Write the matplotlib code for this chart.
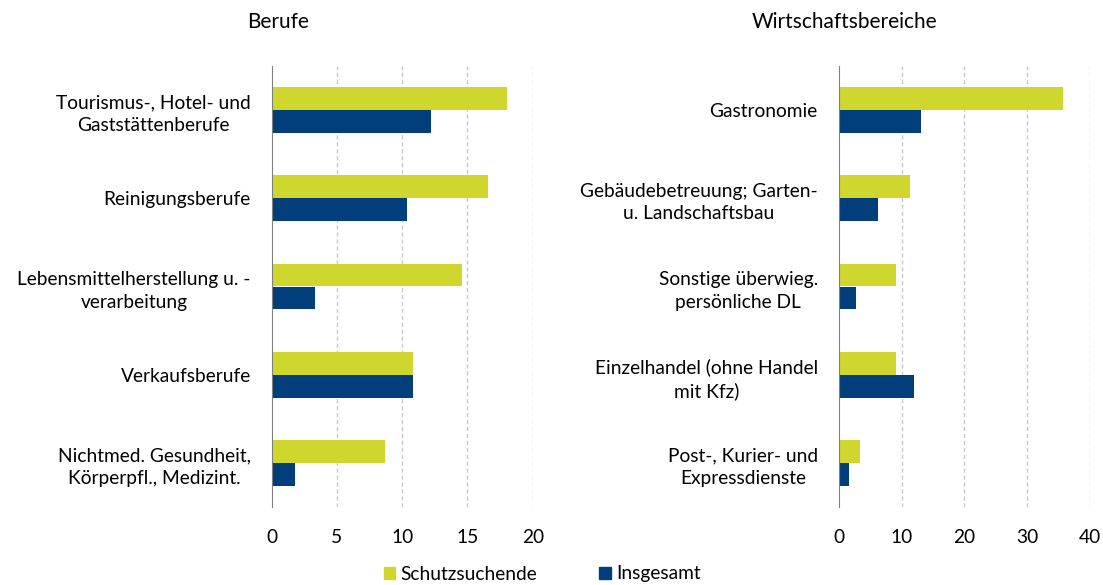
import numpy as np
import matplotlib.pyplot as plt
from matplotlib.patches import Patch

plt.rcParams['font.family'] = ['Lato', 'DejaVu Sans']

berufe = ['Tourismus-, Hotel- und\nGaststättenberufe', 'Reinigungsberufe',
          'Lebensmittelherstellung u. -\nverarbeitung', 'Verkaufsberufe',
          'Nichtmed. Gesundheit,\nKörperpfl., Medizint.']
berufe_schutz = [18.0, 16.6, 14.6, 10.8, 8.7]
berufe_gesamt = [12.2, 10.4, 3.3, 10.8, 1.8]

wirtschaft = ['Gastronomie', 'Gebäudebetreuung; Garten-\nu. Landschaftsbau',
              'Sonstige überwieg.\npersönliche DL', 'Einzelhandel (ohne Handel\nmit Kfz)',
              'Post-, Kurier- und\nExpressdienste']
wirtschaft_schutz = [35.7, 11.4, 9.1, 9.1, 3.4]
wirtschaft_gesamt = [13.1, 6.3, 2.8, 12.0, 1.7]

green = '#cfd72e'
blue = '#003e7c'
fs = 13.8

W, H = 1103, 585
fig = plt.figure(figsize=(W / 100, H / 100), dpi=100)

def panel(rect, labels, schutz, gesamt, ticks):
    ax = fig.add_axes(rect)
    y = np.arange(len(labels))
    h = 0.26
    ax.barh(y - h / 2, schutz, height=h, color=green)
    ax.barh(y + h / 2, gesamt, height=h, color=blue)
    ax.set_ylim(len(labels) - 0.5, -0.5)
    ax.set_xlim(ticks[0], ticks[-1])
    ax.set_xticks(ticks)
    ax.set_yticks(y)
    ax.set_yticklabels(labels, ha='right', multialignment='center', fontsize=fs,
                       linespacing=1.4)
    ax.tick_params(length=0, labelsize=fs)
    ax.tick_params(axis='x', pad=16)
    ax.tick_params(axis='y', pad=15)
    for s in ['top', 'right', 'bottom']:
        ax.spines[s].set_visible(False)
    ax.spines['left'].set_color('#808080')
    for t in ticks[1:]:
        ax.axvline(t, color='#c8c8c8', lw=1, ls=(0, (3, 2)), zorder=0)
    return ax

# axes rects in pixel coords -> figure fractions
def rect(x0, x1, y0, y1):
    return [x0 / W, 1 - y1 / H, (x1 - x0) / W, (y1 - y0) / H]

panel(rect(271.7, 532.7, 66, 507), berufe, berufe_schutz, berufe_gesamt, [0, 5, 10, 15, 20])
panel(rect(838.7, 1090, 66, 507), wirtschaft, wirtschaft_schutz, wirtschaft_gesamt, [0, 10, 20, 30, 40])

fig.text(278 / W, 1 - 22 / H, 'Berufe', ha='center', va='center', fontsize=15)
fig.text(844 / W, 1 - 22 / H, 'Wirtschaftsbereiche', ha='center', va='center', fontsize=15)

handles = [Patch(color=green, label='Schutzsuchende'), Patch(color=blue, label='Insgesamt')]
fig.legend(handles=handles, loc='center', bbox_to_anchor=(542 / W, 1 - 574 / H), ncol=2,
           frameon=False, fontsize=fs, handlelength=0.62, handleheight=0.62,
           handletextpad=0.27, columnspacing=3.2, borderpad=0)

fig.savefig('out.png', dpi=100)
